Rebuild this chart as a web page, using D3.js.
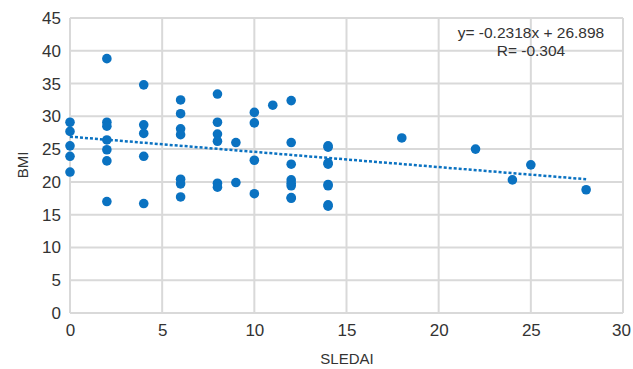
<!DOCTYPE html>
<html>
<head>
<meta charset="utf-8">
<script src="https://cdn.jsdelivr.net/npm/d3@7"></script>
<style>
  html, body { margin: 0; padding: 0; background: #fff; }
  svg { display: block; font-family: "Liberation Sans", Arial, sans-serif; }
</style>
</head>
<body>
<svg id="chart" width="633" height="369"></svg>
<script>
// SLEDAI score for each patient
const sledai = [
  0, 0, 0, 0, 0,
  2, 2, 2, 2, 2, 2, 2,
  4, 4, 4, 4, 4,
  6, 6, 6, 6, 6, 6, 6,
  8, 8, 8, 8, 8, 8,
  9, 9,
  10, 10, 10, 10,
  11,
  12, 12, 12, 12, 12, 12, 12, 12,
  14, 14, 14, 14, 14, 14, 14, 14,
  18, 22, 24, 25, 28
];
// BMI for each patient (same order)
const bmi = [
  29.1, 27.7, 25.5, 23.9, 21.5,
  38.8, 29.1, 28.5, 26.4, 24.9, 23.2, 17.0,
  34.8, 28.7, 27.4, 23.9, 16.7,
  32.5, 30.4, 28.1, 27.2, 20.4, 19.7, 17.7,
  33.4, 29.1, 27.3, 26.2, 19.8, 19.2,
  26.0, 19.9,
  30.6, 29.0, 23.3, 18.2,
  31.7,
  32.4, 26.0, 22.7, 20.3, 19.8, 19.4, 17.6, 17.5,
  25.5, 25.3, 22.9, 22.7, 19.6, 19.4, 16.5, 16.3,
  26.7, 25.0, 20.3, 22.6, 18.8
];
// Linear fit reported on the chart
const slope = -0.2318;
const intercept = 26.898;
const rValue = -0.304;
const xTicks = [0, 5, 10, 15, 20, 25, 30];
const yTicks = [0, 5, 10, 15, 20, 25, 30, 35, 40, 45];

const svg = d3.select("#chart");
const plotLeft = 70, plotRight = 623, plotTop = 18, plotBottom = 313;
const x = d3.scaleLinear().domain([0, 30]).range([plotLeft, plotRight]);
const y = d3.scaleLinear().domain([0, 45]).range([plotBottom, plotTop]);

const gridColor = "#d9d9d9";
const textColor = "#333";
const dotColor = "#0a72c1";

// Grid
svg.append("g").selectAll("line").data(yTicks).join("line")
  .attr("x1", plotLeft).attr("x2", plotRight)
  .attr("y1", d => y(d)).attr("y2", d => y(d))
  .attr("stroke", gridColor).attr("stroke-width", 2);
svg.append("g").selectAll("line").data(xTicks).join("line")
  .attr("x1", d => x(d)).attr("x2", d => x(d))
  .attr("y1", plotTop).attr("y2", plotBottom)
  .attr("stroke", gridColor).attr("stroke-width", 2);

// Axes (labels only; grid draws the lines)
const xAxis = svg.append("g").attr("transform", `translate(0,${plotBottom})`)
  .call(d3.axisBottom(x).tickValues(xTicks).tickSize(0).tickPadding(11));
const yAxis = svg.append("g").attr("transform", `translate(${plotLeft},0)`)
  .call(d3.axisLeft(y).tickValues(yTicks).tickSize(0).tickPadding(9));
[xAxis, yAxis].forEach(g => {
  g.select(".domain").remove();
  g.selectAll("text").attr("fill", textColor)
    .style("font-size", "17px").style("font-family", "'Liberation Sans', Arial, sans-serif");
});
// keep the last x label inside the canvas
xAxis.selectAll(".tick text").filter(d => d === 30).attr("dx", -2);

// Axis titles
svg.append("text").attr("x", 347).attr("y", 364)
  .attr("text-anchor", "middle").attr("fill", textColor).style("font-size", "15px")
  .text("SLEDAI");
svg.append("text").attr("transform", "translate(28,165) rotate(-90)")
  .attr("text-anchor", "middle").attr("fill", textColor).style("font-size", "15px")
  .text("BMI");

// Trend line
const xMin = d3.min(sledai), xMax = d3.max(sledai);
svg.append("line")
  .attr("x1", x(xMin)).attr("y1", y(slope * xMin + intercept))
  .attr("x2", x(xMax)).attr("y2", y(slope * xMax + intercept))
  .attr("stroke", dotColor).attr("stroke-width", 2.5)
  .attr("stroke-dasharray", "3,2");

// Points
svg.append("g").selectAll("circle").data(sledai).join("circle")
  .attr("cx", d => x(d))
  .attr("cy", (d, i) => y(bmi[i]))
  .attr("r", 4.8)
  .attr("fill", dotColor);

// Equation
const eq = svg.append("g").attr("fill", textColor).style("font-size", "15.5px")
  .attr("text-anchor", "middle");
eq.append("text").attr("x", 531).attr("y", 38)
  .text(`y= ${slope}x + ${intercept}`);
eq.append("text").attr("x", 531).attr("y", 56)
  .text(`R= ${rValue}`);
</script>
</body>
</html>
